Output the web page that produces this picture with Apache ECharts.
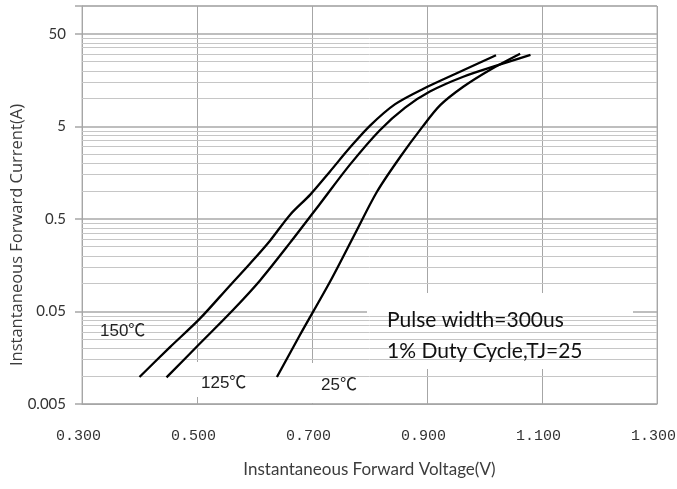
<!DOCTYPE html>
<html><head><meta charset="utf-8">
<script src="https://cdn.jsdelivr.net/npm/echarts@6/dist/echarts.min.js"></script>
<style>html,body{margin:0;padding:0;background:#fff}#c{width:677px;height:489px}</style>
</head><body><div id="c"></div>
<script>
// Axis ranges / ticks
const xMin = 0.3, xMax = 1.3, xStep = 0.2;
const yMin = 0.005, yMax = 100;
const yTickLabels = ['0.005', '0.05', '0.5', '5', '50'];
const minorMultipliers = [2, 3, 4, 5, 6, 7, 8, 9];

// Curves: voltage (V) and current (A)
const v150 = [0.400, 0.453, 0.505, 0.557, 0.592, 0.627, 0.662, 0.697, 0.731, 0.766, 0.801, 0.844, 0.893, 0.963, 1.020];
const i150 = [0.0098, 0.0206, 0.0418, 0.095, 0.164, 0.291, 0.556, 0.916, 1.62, 2.95, 5.10, 8.65, 12.7, 20.2, 29.4];

const v125 = [0.447, 0.505, 0.563, 0.610, 0.662, 0.714, 0.766, 0.818, 0.862, 0.905, 0.963, 1.022, 1.080];
const i125 = [0.0097, 0.0225, 0.0522, 0.109, 0.277, 0.730, 1.93, 4.55, 7.97, 11.9, 17.2, 22.8, 29.6];

const v25 = [0.639, 0.679, 0.732, 0.775, 0.813, 0.853, 0.893, 0.923, 0.963, 1.010, 1.062];
const i25 = [0.0098, 0.0278, 0.1066, 0.348, 0.984, 2.32, 5.03, 8.48, 13.4, 20.5, 30.5];

const L = v => Math.log10(v / yMin);   // value-axis position in decades above yMin
const pairs = (vs, is) => vs.map((v, k) => [v, L(is[k])]);

const minorVals = [];
for (let d = 0; d < 4; d++) for (const m of minorMultipliers) minorVals.push(d + Math.log10(m));

const chart = echarts.init(document.getElementById('c'), null, {renderer: 'canvas'});
const curveStyle = {color: '#000', width: 2.3};
const labelFont = 'Lato, "Liberation Sans", sans-serif';
const tempFont = '17px "Liberation Sans", "Noto Sans CJK SC"';

chart.setOption({
  animation: false,
  backgroundColor: '#fff',
  grid: {left: 82, right: 20, top: 6, bottom: 85, containLabel: false, outerBoundsMode: 'none',
    show: true, borderColor: '#b4b4b4', borderWidth: 1, backgroundColor: 'transparent'},
  xAxis: {
    type: 'value', min: xMin, max: xMax, interval: xStep,
    axisLine: {show: true, lineStyle: {color: '#a6a6a6', width: 1}},
    axisTick: {show: false},
    splitLine: {show: true, lineStyle: {color: '#a6a6a6', width: 1}},
    axisLabel: {formatter: v => v.toFixed(3), fontFamily: '"Liberation Mono", monospace', fontSize: 15, color: '#333', margin: 25, padding: [0, 7, 0, 0], hideOverlap: false},
    name: 'Instantaneous Forward Voltage(V)', nameLocation: 'middle', nameGap: 57, nameMoveOverlap: false,
    nameTextStyle: {fontFamily: labelFont, fontSize: 17, color: '#3c3c3c'}
  },
  yAxis: {
    type: 'value', min: 0, max: L(yMax), interval: 1,
    axisLine: {show: true, lineStyle: {color: '#a6a6a6', width: 1}},
    axisTick: {show: true, length: 7, lineStyle: {color: '#a6a6a6', width: 1.5}},
    splitLine: {show: true, lineStyle: {color: '#a8a8a8', width: 1.6}},
    axisLabel: {formatter: v => (Math.abs(v - Math.round(v)) < 1e-6 && yTickLabels[Math.round(v)]) || '', fontFamily: labelFont, fontSize: 15, color: '#333', margin: 16},
    name: 'Instantaneous Forward Current(A)', nameLocation: 'middle', nameGap: 56, nameMoveOverlap: false,
    nameTextStyle: {fontFamily: '"Open Sans", sans-serif', fontSize: 16.5, color: '#3c3c3c', padding: [0, 60, 0, 0]}
  },
  series: [
    {type: 'line', data: [], z: 1, silent: true,
      markLine: {silent: true, symbol: 'none', label: {show: false}, animation: false,
        lineStyle: {color: '#c6c6c6', width: 1, type: 'solid'},
        data: minorVals.map(v => ({yAxis: v}))}},
    {type: 'line', name: '150', data: pairs(v150, i150), smooth: 0.3, showSymbol: false, lineStyle: curveStyle, z: 10},
    {type: 'line', name: '125', data: pairs(v125, i125), smooth: 0.3, showSymbol: false, lineStyle: curveStyle, z: 10},
    {type: 'line', name: '25', data: pairs(v25, i25), smooth: 0.3, showSymbol: false, lineStyle: curveStyle, z: 10}
  ],
  graphic: [
    {type: 'rect', z: 5, shape: {x: 87, y: 314, width: 78, height: 34}, style: {fill: '#fff'}},
    {type: 'rect', z: 5, shape: {x: 188, y: 362, width: 80, height: 35}, style: {fill: '#fff'}},
    {type: 'rect', z: 5, shape: {x: 308, y: 363, width: 72, height: 40}, style: {fill: '#fff'}},
    {type: 'rect', z: 5, shape: {x: 367, y: 293, width: 266, height: 76}, style: {fill: '#fff'}},
    {type: 'text', z: 6, x: 100, y: 331, style: {text: '150℃', font: tempFont, fill: '#222', verticalAlign: 'middle'}},
    {type: 'text', z: 6, x: 201, y: 383, style: {text: '125℃', font: tempFont, fill: '#222', verticalAlign: 'middle'}},
    {type: 'text', z: 6, x: 321, y: 385, style: {text: '25℃', font: tempFont, fill: '#222', verticalAlign: 'middle'}},
    {type: 'text', z: 6, x: 387, y: 320, style: {text: 'Pulse width=300us', font: '21px Lato, sans-serif', fill: '#111', verticalAlign: 'middle'}},
    {type: 'text', z: 6, x: 387, y: 351, style: {text: '1% Duty Cycle,TJ=25', font: '21px Lato, sans-serif', fill: '#111', verticalAlign: 'middle'}}
  ]
});
</script></body></html>
